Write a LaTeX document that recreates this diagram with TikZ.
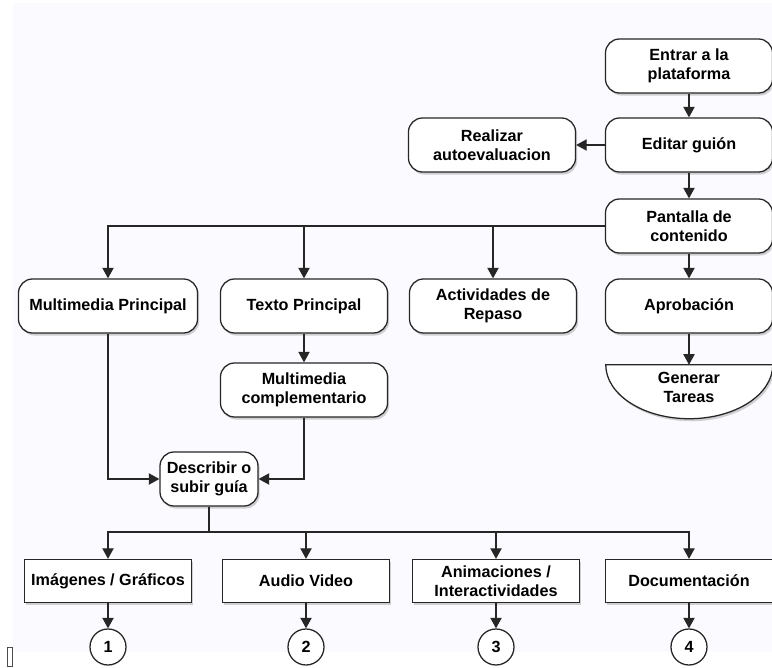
\documentclass[tikz,border=0pt]{standalone}
\usepackage{fontspec}
\setsansfont{Liberation Sans}
\usetikzlibrary{
  positioning,
  arrows.meta,
  shapes,
  shadows,
  backgrounds,
  calc
}

\begin{document}
\begin{tikzpicture}[
  x=0.025cm, y=-0.025cm,
  lbl/.style={
    align=center,
    font=\sffamily\bfseries\fontsize{11.5}{13.5}\selectfont
  },
  box/.style={
    lbl,
    draw=black!85,
    line width=0.9pt,
    rounded corners=10pt,
    minimum width=4.175cm,
    minimum height=1.35cm,
    fill=white,
    drop shadow={opacity=0.35, shadow xshift=1.2pt, shadow yshift=-1.8pt}
  },
  sqbox/.style={
    box,
    rounded corners=0pt,
    minimum height=1.075cm
  },
  endcirc/.style={
    lbl,
    circle,
    draw=black!85,
    line width=0.9pt,
    minimum size=0.9cm,
    inner sep=0pt,
    fill=white
  },
  arrow/.style={-{Triangle[width=8pt,length=7.5pt]}, line width=0.9pt, draw=black!85}
]

\useasboundingbox (0,0) rectangle (772,668);

% Background
\begin{scope}[on background layer]
  \fill[blue!2!white] (13,3) rectangle (772,652);
\end{scope}

% ==================== TOP COLUMN ====================
\node[box] (entrar) at (689,66) {Entrar a la\\plataforma};
\node[box] (editar) at (689,145) {Editar guión};
\node[box] (realizar) at (492,145) {Realizar\\autoevaluacion};
\node[box] (pantalla) at (689,226) {Pantalla de\\contenido};

\draw[arrow] (entrar) -- (editar);
\draw[arrow] (editar) -- (realizar);
\draw[arrow] (editar) -- (pantalla);

% ==================== MIDDLE ROW ====================
\node[box, minimum width=4.475cm] (multiP) at (108,306) {Multimedia Principal};
\node[box] (texto) at (304,306) {Texto Principal};
\node[box] (activ) at (493,306) {Actividades de\\Repaso};
\node[box] (aprob) at (689,306) {Aprobación};

\draw[arrow] (pantalla.west) -| (multiP.north);
\draw[arrow] (texto.north |- pantalla.west) -- (texto.north);
\draw[arrow] (activ.north |- pantalla.west) -- (activ.north);
\draw[arrow] (pantalla) -- (aprob);

% Generar Tareas (half round)
\node[lbl, minimum width=4.175cm, minimum height=1.1cm] (tareas) at (689,387) {Generar\\Tareas};
\begin{scope}[on background layer]
  \draw[draw=black!85, line width=0.9pt, fill=white,
    drop shadow={opacity=0.35, shadow xshift=1.2pt, shadow yshift=-1.8pt}]
    (tareas.north west) -- (tareas.north east)
    arc[start angle=0, end angle=-180, x radius=2.0875cm, y radius=1.35cm] -- cycle;
\end{scope}
\draw[arrow] (aprob) -- (tareas.north);

% Multimedia complementario
\node[box] (multiC) at (304,390) {Multimedia\\complementario};
\draw[arrow] (texto) -- (multiC);

% Describir
\node[box, minimum width=2.45cm] (describir) at (209,479) {Describir o\\subir guía};
\draw[arrow] (multiP.south) |- (describir.west);
\draw[arrow] (multiC.south) |- (describir.east);

% ==================== BOTTOM ROW ====================
\node[sqbox] (imag) at (108,581) {Imágenes / Gráficos};
\node[sqbox] (audio) at (306,581) {Audio Video};
\node[sqbox] (anim) at (496,581) {Animaciones /\\Interactividades};
\node[sqbox] (docu) at (689,581) {Documentación};

\coordinate (bus) at (209,532);
\draw[line width=0.9pt, draw=black!85] (describir.south) -- (bus);
\draw[arrow] (bus) -| (imag.north);
\draw[arrow] (bus) -| (docu.north);
\draw[arrow] (audio.north |- bus) -- (audio.north);
\draw[arrow] (anim.north |- bus) -- (anim.north);

% Numbered ends
\node[endcirc] (c1) at (108,647) {1};
\node[endcirc] (c2) at (306,647) {2};
\node[endcirc] (c3) at (496,647) {3};
\node[endcirc] (c4) at (689,647) {4};

\draw[arrow] (imag) -- (c1);
\draw[arrow] (audio) -- (c2);
\draw[arrow] (anim) -- (c3);
\draw[arrow] (docu) -- (c4);

% stray mark
\draw[black!70, line width=0.4pt] (7,647) rectangle (12,666);

\end{tikzpicture}
\end{document}
